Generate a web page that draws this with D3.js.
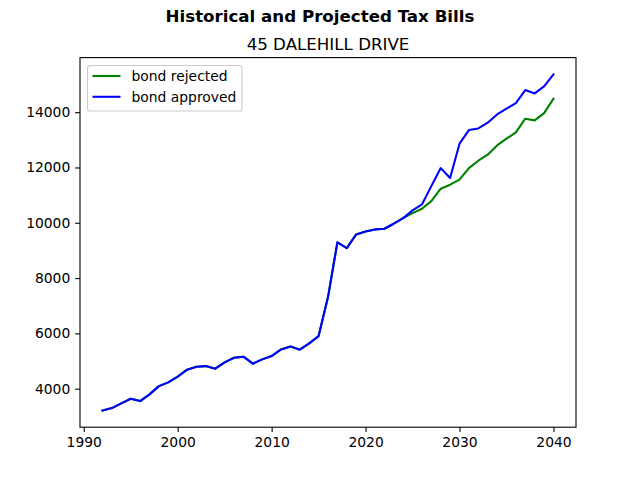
<!DOCTYPE html>
<html>
<head>
<meta charset="utf-8">
<script src="https://cdn.jsdelivr.net/npm/d3@7"></script>
<style>
  body { margin: 0; background: #fff; }
  svg { font-family: "DejaVu Sans", sans-serif; }
</style>
</head>
<body>
<div id="chart"></div>
<script>
// values
var years = [1992, 1993, 1994, 1995, 1996, 1997, 1998, 1999, 2000, 2001, 2002, 2003, 2004, 2005,
  2006, 2007, 2008, 2009, 2010, 2011, 2012, 2013, 2014, 2015, 2016, 2017, 2018, 2019, 2020,
  2021, 2022, 2023, 2024, 2025, 2026, 2027, 2028, 2029, 2030, 2031, 2032, 2033, 2034, 2035,
  2036, 2037, 2038, 2039, 2040];

var bondRejected = [3214, 3297, 3467, 3637, 3550, 3793, 4093, 4227, 4433, 4686, 4795, 4816, 4722, 4950,
  5120, 5156, 4903, 5059, 5178, 5420, 5529, 5410, 5637, 5901, 7312, 9290, 9084, 9579, 9688,
  9760, 9785, 9966, 10169, 10350, 10509, 10784, 11232, 11377, 11558, 11977, 12245, 12462, 12798, 13040,
  13268, 13764, 13703, 13966, 14487];

var bondApproved = [3214, 3297, 3467, 3637, 3550, 3793, 4093, 4227, 4433, 4686, 4795, 4816, 4722, 4950,
  5120, 5156, 4903, 5059, 5178, 5420, 5529, 5410, 5637, 5901, 7312, 9290, 9084, 9579, 9688,
  9760, 9785, 9966, 10169, 10447, 10664, 11326, 11977, 11616, 12860, 13352, 13413, 13619, 13919, 14125,
  14328, 14798, 14679, 14932, 15366];

var seriesNames = ["bond rejected", "bond approved"];
var seriesColors = ["green", "blue"];
var xTicks = [1990, 2000, 2010, 2020, 2030, 2040];
var yTicks = [4000, 6000, 8000, 10000, 12000, 14000];

var width = 640, height = 480;
var plotLeft = 80, plotRight = 576, plotTop = 57.6, plotBottom = 427.2;
var fontSize = 13.89;

var svg = d3.select("#chart")
  .append("svg")
  .attr("width", width)
  .attr("height", height);

// matplotlib style 5% margins
function padded(extent) {
  var pad = (extent[1] - extent[0]) * 0.05;
  return [extent[0] - pad, extent[1] + pad];
}

var x = d3.scaleLinear()
  .domain(padded(d3.extent(years)))
  .range([plotLeft, plotRight]);

var allValues = bondRejected.concat(bondApproved);
var y = d3.scaleLinear()
  .domain(padded(d3.extent(allValues)))
  .range([plotBottom, plotTop]);

// titles
svg.append("text")
  .attr("x", 320)
  .attr("y", 22)
  .attr("text-anchor", "middle")
  .attr("font-weight", "bold")
  .attr("font-size", 16.67)
  .text("Historical and Projected Tax Bills");

svg.append("text")
  .attr("x", (plotLeft + plotRight) / 2)
  .attr("y", 49.5)
  .attr("text-anchor", "middle")
  .attr("font-size", 16.67)
  .text("45 DALEHILL DRIVE");

// axes
var xAxis = svg.append("g")
  .attr("transform", "translate(0," + plotBottom + ")")
  .call(d3.axisBottom(x).tickValues(xTicks).tickFormat(d3.format("d")).tickSize(4.86).tickPadding(4.86));

var yAxis = svg.append("g")
  .attr("transform", "translate(" + plotLeft + ",0)")
  .call(d3.axisLeft(y).tickValues(yTicks).tickFormat(d3.format("d")).tickSize(4.86).tickPadding(4.86));

[xAxis, yAxis].forEach(function(g) {
  g.select(".domain").remove();
  g.selectAll(".tick line").attr("stroke", "#000").attr("stroke-width", 1.1);
  g.selectAll(".tick text")
    .attr("font-family", "DejaVu Sans, sans-serif")
    .attr("font-size", fontSize)
    .attr("fill", "#000");
});

// lines
var seriesData = [bondRejected, bondApproved];

var line = d3.line()
  .x(function(d, i) {
    return x(years[i]);
  })
  .y(function(d) {
    return y(d);
  });

svg.selectAll(".series")
  .data(seriesData)
  .enter()
  .append("path")
  .attr("class", "series")
  .attr("fill", "none")
  .attr("stroke", function(d, i) {
    return seriesColors[i];
  })
  .attr("stroke-width", 2.08)
  .attr("stroke-linejoin", "round")
  .attr("stroke-linecap", "square")
  .attr("d", line);

// frame
svg.append("rect")
  .attr("x", plotLeft)
  .attr("y", plotTop)
  .attr("width", plotRight - plotLeft)
  .attr("height", plotBottom - plotTop)
  .attr("fill", "none")
  .attr("stroke", "#000")
  .attr("stroke-width", 1.1);

// legend
var legend = svg.append("g");

legend.append("rect")
  .attr("x", 87.5)
  .attr("y", 65.5)
  .attr("width", 154.5)
  .attr("height", 45.5)
  .attr("rx", 2.8)
  .attr("fill", "#fff")
  .attr("fill-opacity", 0.8)
  .attr("stroke", "#cccccc")
  .attr("stroke-width", 1.1);

var items = legend.selectAll(".item")
  .data(seriesNames)
  .enter()
  .append("g")
  .attr("class", "item")
  .attr("transform", function(d, i) {
    return "translate(0," + (76 + i * 20.8) + ")";
  });

items.append("line")
  .attr("x1", 92.5)
  .attr("x2", 120.5)
  .attr("stroke", function(d, i) {
    return seriesColors[i];
  })
  .attr("stroke-width", 2.08);

items.append("text")
  .attr("x", 131.5)
  .attr("y", 4.9)
  .attr("font-size", fontSize)
  .text(function(d) {
    return d;
  });
</script>
</body>
</html>
